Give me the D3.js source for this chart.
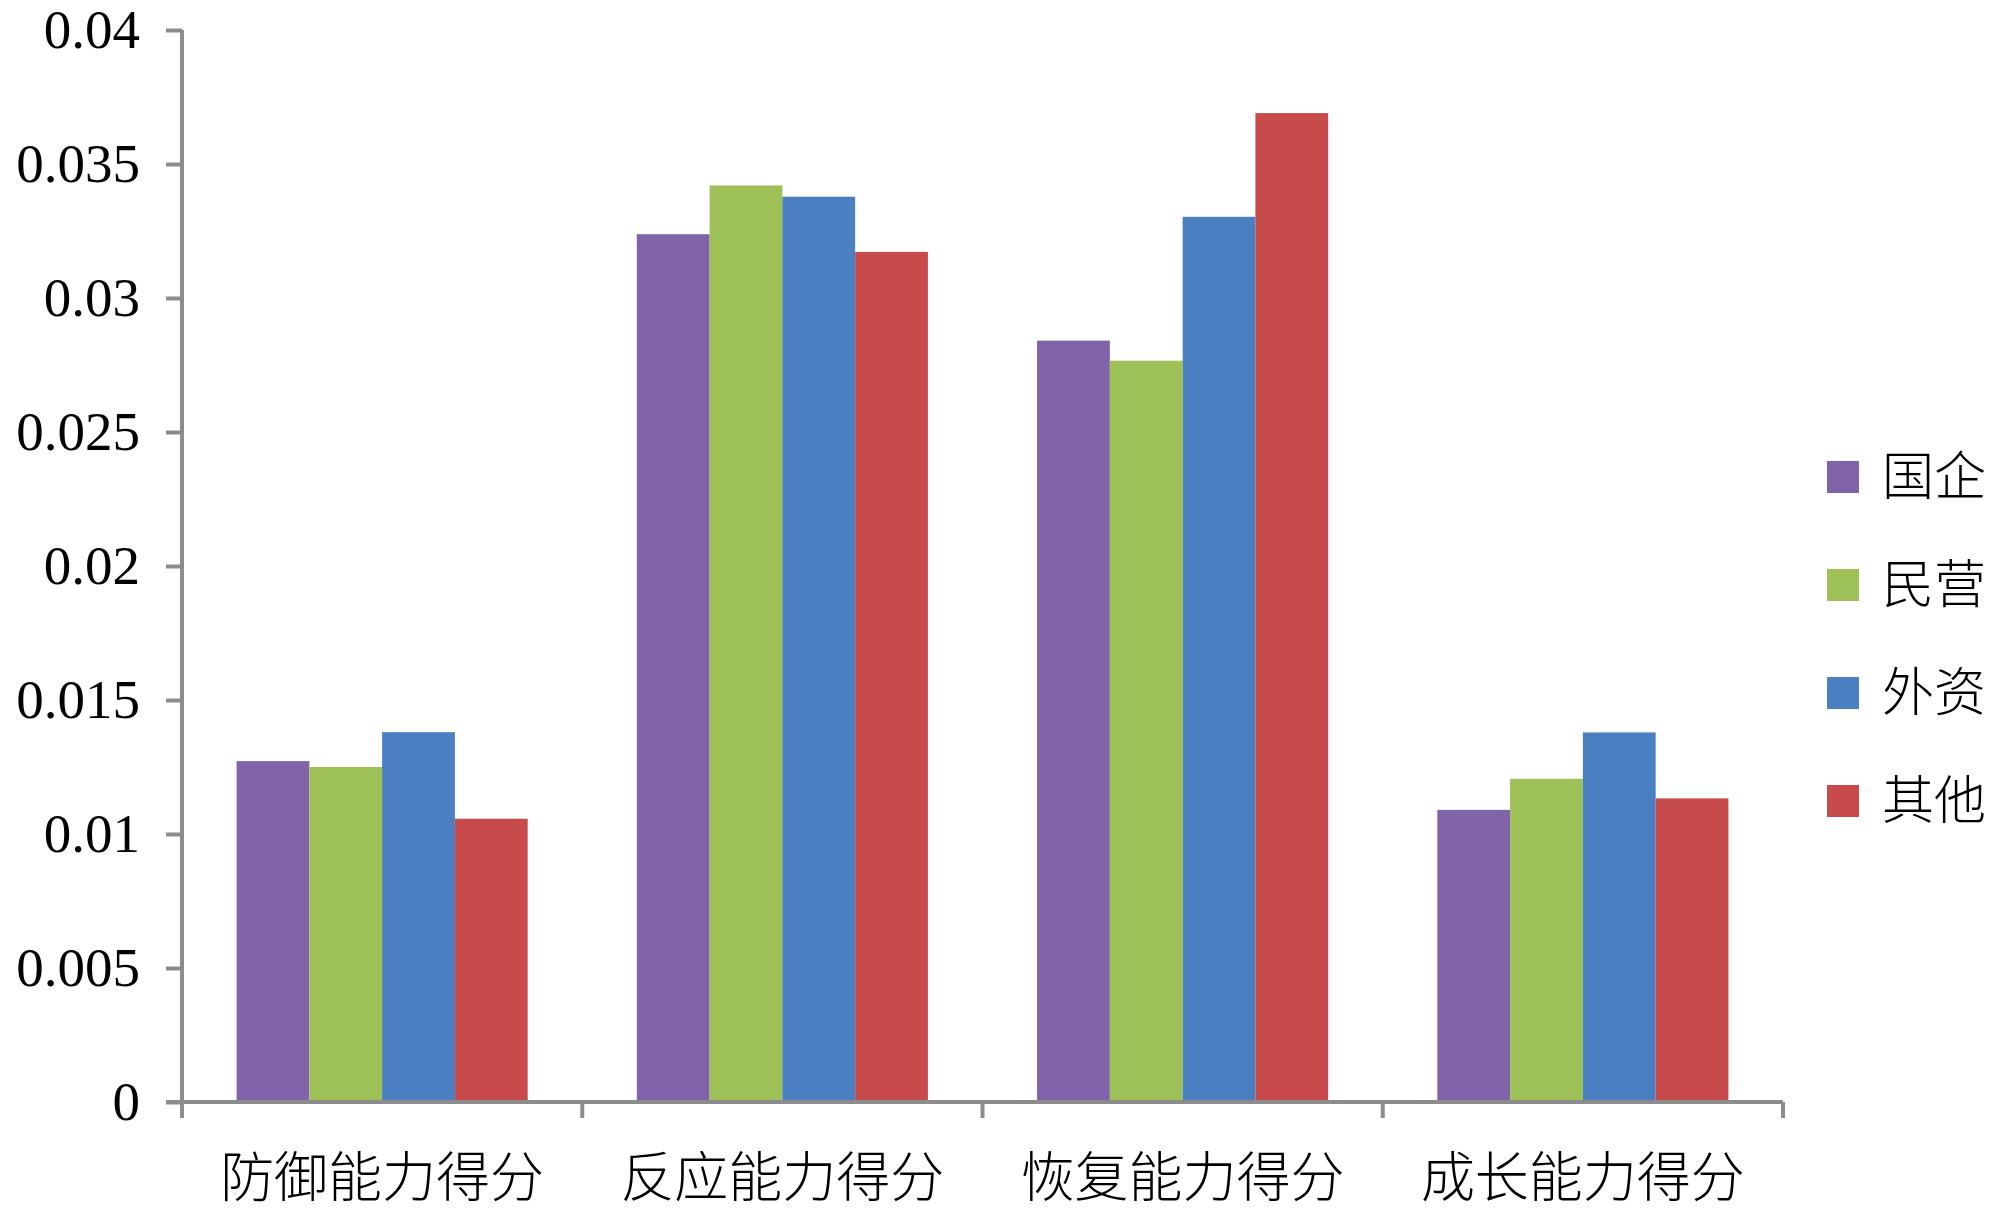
<!DOCTYPE html>
<html>
<head>
<meta charset="utf-8">
<script src="https://cdn.jsdelivr.net/npm/d3@7"></script>
<style>
  html, body { margin: 0; padding: 0; background: #fff; }
  svg { display: block; }
</style>
</head>
<body>
<svg id="chart" width="2000" height="1213"></svg>
<script>
const categories = ["防御能力得分", "反应能力得分", "恢复能力得分", "成长能力得分"];
const seriesNames = ["国企", "民营", "外资", "其他"];
const seriesColors = ["#8063a8", "#9ec157", "#4a7fc2", "#c84b4b"];
// values per series, in category order
const guoqi  = [0.01272, 0.03238, 0.02841, 0.01090];
const minying = [0.01250, 0.03420, 0.02766, 0.01206];
const waizi  = [0.01380, 0.03378, 0.03303, 0.01379];
const qita   = [0.01057, 0.03172, 0.03690, 0.01133];
const yTicks = [0, 0.005, 0.01, 0.015, 0.02, 0.025, 0.03, 0.035, 0.04];
const yTickLabels = ["0", "0.005", "0.01", "0.015", "0.02", "0.025", "0.03", "0.035", "0.04"];

const seriesValues = [guoqi, minying, waizi, qita];

const AXIS_COLOR = "#8c8c8c";
const LEFT = 182, RIGHT = 1783, TOP = 30, BOTTOM = 1102;

const svg = d3.select("#chart");

const x = d3.scaleBand().domain(categories).range([LEFT, RIGHT]).paddingInner(0).paddingOuter(0);
const gap = x.bandwidth() * 0.75 / 5.5;
const x1 = d3.scaleBand().domain(seriesNames).range([gap, x.bandwidth() - gap]).padding(0);
const y = d3.scaleLinear().domain([0, 0.04]).range([BOTTOM, TOP]);

// bars
const groups = svg.append("g").selectAll("g")
  .data(categories)
  .join("g")
  .attr("transform", d => `translate(${x(d)},0)`);

groups.selectAll("rect")
  .data((d, ci) => seriesNames.map((s, si) => ({ s, si, v: seriesValues[si][ci] })))
  .join("rect")
  .attr("x", d => x1(d.s))
  .attr("width", x1.bandwidth())
  .attr("y", d => y(d.v))
  .attr("height", d => y(0) - y(d.v))
  .attr("fill", d => seriesColors[d.si]);

// y axis
const yAxis = svg.append("g")
  .attr("transform", `translate(${LEFT},0)`)
  .call(d3.axisLeft(y).tickValues(yTicks).tickFormat((d, i) => yTickLabels[i]).tickSize(16).tickPadding(26));
yAxis.select(".domain").attr("stroke", AXIS_COLOR).attr("stroke-width", 4).attr("d", `M0,${TOP}V${BOTTOM}`);
yAxis.selectAll(".tick line").attr("stroke", AXIS_COLOR).attr("stroke-width", 4);
yAxis.selectAll(".tick text")
  .attr("font-family", "'Liberation Serif', 'Times New Roman', serif")
  .attr("font-size", 55)
  .attr("fill", "#000");

// x axis
const xAxis = svg.append("g")
  .attr("transform", `translate(0,${BOTTOM})`)
  .call(d3.axisBottom(x).tickSize(0).tickPadding(0));
xAxis.select(".domain").attr("stroke", AXIS_COLOR).attr("stroke-width", 4).attr("d", `M${LEFT - 16},0H${RIGHT}`);
xAxis.selectAll(".tick text")
  .attr("y", 76)
  .attr("dy", "0.35em")
  .attr("font-family", "'Noto Sans CJK SC', sans-serif")
  .attr("font-weight", 300)
  .attr("font-size", 54)
  .attr("fill", "#000");

// category boundary ticks
const bounds = categories.map(c => x(c)).concat([RIGHT]);
svg.append("g").selectAll("line")
  .data(bounds)
  .join("line")
  .attr("x1", d => d).attr("x2", d => d)
  .attr("y1", BOTTOM).attr("y2", BOTTOM + 16)
  .attr("stroke", AXIS_COLOR)
  .attr("stroke-width", 4);

// legend
const legend = svg.append("g")
  .attr("transform", "translate(1827,477)")
  .selectAll("g")
  .data(seriesNames)
  .join("g")
  .attr("transform", (d, i) => `translate(0,${i * 108})`);

legend.append("rect")
  .attr("x", 0).attr("y", -16)
  .attr("width", 32).attr("height", 32)
  .attr("fill", (d, i) => seriesColors[i]);

legend.append("text")
  .attr("x", 55)
  .attr("y", 0)
  .attr("dy", "0.35em")
  .attr("font-family", "'Noto Sans CJK SC', sans-serif")
  .attr("font-weight", 300)
  .attr("font-size", 52)
  .attr("fill", "#000")
  .text(d => d);
</script>
</body>
</html>
